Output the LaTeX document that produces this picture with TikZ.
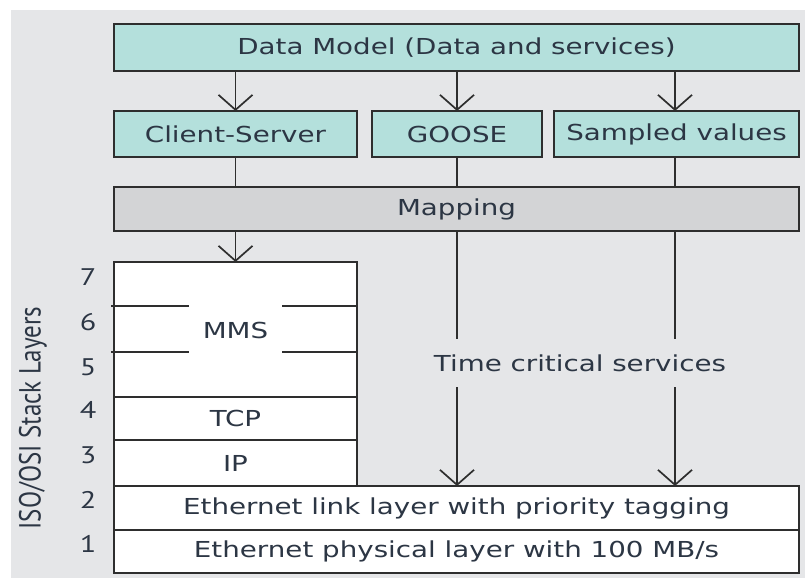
\documentclass[tikz,border=0pt]{standalone}
\usepackage{fontspec}
\setmainfont{DejaVu Sans}
\newfontfamily\numfont{PT Sans}
\usetikzlibrary{arrows.meta}
\definecolor{bg}{HTML}{E5E6E8}
\definecolor{tealfill}{HTML}{B4E0DC}
\definecolor{mapgray}{HTML}{D3D4D6}
\definecolor{ink}{HTML}{2E2E2E}
\definecolor{txt}{HTML}{2C3644}
% the typeface of the figure is set wide
\newcommand{\wide}[1]{\scalebox{1.26}[1]{#1}}
\begin{document}
\begin{tikzpicture}[x=1pt,y=-1pt,
  box/.style={draw=ink, line width=1.7pt, inner sep=0pt, outer sep=0pt,
    text=txt, font=\fontsize{22}{26}\selectfont},
  lbl/.style={inner sep=0pt, text=txt, font=\fontsize{22}{26}\selectfont},
  num/.style={inner sep=0pt, text=txt, font=\numfont\fontsize{24}{28}\selectfont},
  wire/.style={draw=ink, line width=1.7pt},
  arr/.style={wire, -{Straight Barb[length=15pt,width=34pt,line width=1.7pt]}}]
\useasboundingbox (0,0) rectangle (805,578);
\fill[bg] (11,10) rectangle (805,578);

% service boxes
\node[box, fill=tealfill, minimum width=685, minimum height=47] (dm) at (456.5,47.5) {\wide{Data Model (Data and services)}};
\node[box, fill=tealfill, minimum width=243, minimum height=46] (cs) at (235.5,134) {\wide{Client-Server}};
\node[box, fill=tealfill, minimum width=170, minimum height=46] (goose) at (457,134) {\wide{GOOSE}};
\node[box, fill=tealfill, minimum width=245, minimum height=46] (sv) at (676.5,134) {\wide{Sampled values}};
\node[box, fill=mapgray, minimum width=685, minimum height=44] (map) at (456.5,209) {\wide{Mapping}};

% protocol stack
\node[box, fill=white, minimum width=243, minimum height=135] (mms) at (235.5,329.5) {};
\node[box, fill=white, minimum width=243, minimum height=43] (tcp) at (235.5,418.5) {\wide{TCP}};
\node[box, fill=white, minimum width=243, minimum height=46] (ip) at (235.5,463) {\wide{IP}};
\node[box, fill=white, minimum width=685, minimum height=44] (eth) at (456.5,508) {\wide{Ethernet link layer with priority tagging}};
\node[box, fill=white, minimum width=685, minimum height=43] (phy) at (456.5,551.5) {\wide{Ethernet physical layer with 100 MB/s}};
\node[lbl] (mmst) at (235.5,330) {\wide{MMS}};
\draw[wire] (111,306) -- (189,306) (282,306) -- (mms.east |- 0,306);
\draw[wire] (111,352) -- (189,352) (282,352) -- (mms.east |- 0,352);

% layer numbers and axis label
\node[num] (n7) at (88,277) {\wide{7}};
\node[num] (n6) at (88,322) {\wide{6}};
\node[num] (n5) at (88,367) {\wide{5}};
\node[num] (n4) at (88,410) {\wide{4}};
\node[num] (n3) at (88,455) {\wide{3}};
\node[num] (n2) at (88,500) {\wide{2}};
\node[num] (n1) at (88,544) {\wide{1}};
\node[num, rotate=90, font=\numfont\fontsize{25}{30}\selectfont] (axis) at (33,418) {\scalebox{1}[1.22]{ISO/OSI Stack Layers}};

% connectors
\draw[arr] (dm.south -| cs) -- (cs.north);
\draw[arr] (dm.south -| goose) -- (goose.north);
\draw[arr] (dm.south -| 675,0) -- (sv.north -| 675,0);
\draw[wire] (cs.south) -- (map.north -| cs);
\draw[wire] (goose.south) -- (map.north -| goose);
\draw[wire] (sv.south -| 675,0) -- (map.north -| 675,0);
\draw[arr] (map.south -| mms) -- (mms.north);

\node[lbl, minimum height=48] (tcs) at (580,363) {\wide{Time critical services}};
\draw[wire] (map.south -| goose) -- (tcs.north -| goose);
\draw[arr] (tcs.south -| goose) -- (eth.north -| goose);
\draw[wire] (map.south -| 675,0) -- (tcs.north -| 675,0);
\draw[arr] (tcs.south -| 675,0) -- (eth.north -| 675,0);
\end{tikzpicture}
\end{document}
